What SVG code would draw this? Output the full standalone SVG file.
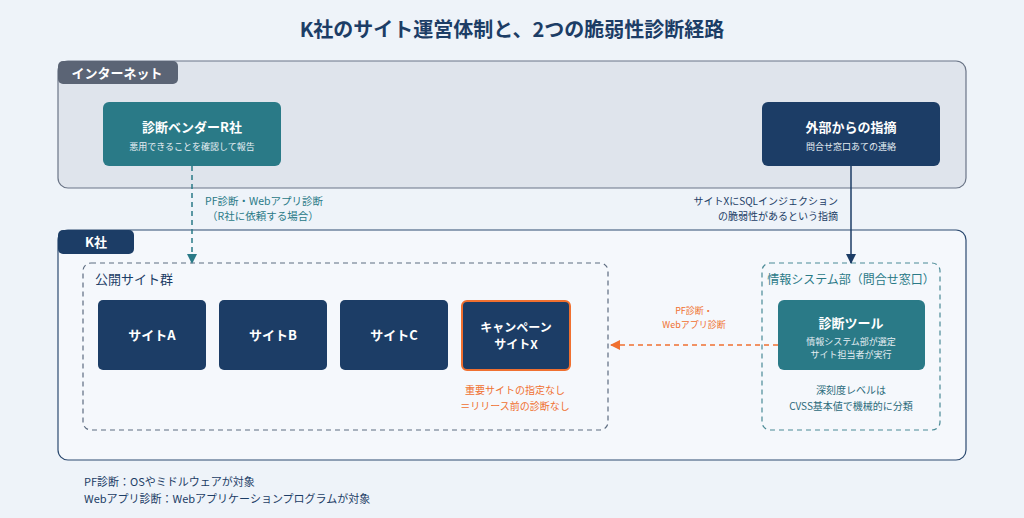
<svg xmlns="http://www.w3.org/2000/svg" width="1024" height="518" viewBox="0 0 1024 518">
<style>
text{font-family:"Noto Sans CJK JP","Noto Sans",sans-serif}
.t{font-weight:700;fill:#fff;text-anchor:middle}
.s{font-size:9px;fill:#e6eef3;text-anchor:middle}
.site{fill:#1c3d66}
</style>
<defs>
<marker id="mt" markerWidth="10" markerHeight="10" refX="9" refY="5" orient="auto" markerUnits="userSpaceOnUse"><path d="M0,0L10,5L0,10z" fill="#2a7a87"/></marker>
<marker id="mn" markerWidth="10" markerHeight="10" refX="9" refY="5" orient="auto" markerUnits="userSpaceOnUse"><path d="M0,0L10,5L0,10z" fill="#1c3d66"/></marker>
<marker id="mo" markerWidth="10" markerHeight="10" refX="9" refY="5" orient="auto" markerUnits="userSpaceOnUse"><path d="M0,0L10,5L0,10z" fill="#f07030"/></marker>
</defs>
<rect width="1024" height="518" fill="#eef3f9"/>
<text x="512" y="37" font-size="20" font-weight="700" fill="#1c3d66" text-anchor="middle">K社のサイト運営体制と、2つの脆弱性診断経路</text>
<g id="internet">
<rect x="58" y="61" width="908" height="127" rx="10" fill="#dfe4ec" stroke="#6b7587" stroke-width="1.2"/>
<rect x="58" y="61" width="120" height="23" rx="5" fill="#5b6475"/>
<text x="117" y="78" font-size="13" class="t">インターネット</text>
</g>
<g id="kcorp">
<rect x="58" y="230" width="908" height="230" rx="10" fill="#f5f8fc" stroke="#2c4a70" stroke-width="1.2"/>
<rect x="58" y="230" width="76" height="24" rx="5" fill="#1c3d66"/>
<text x="96" y="247" font-size="13" class="t">K社</text>
</g>
<g id="public">
<rect x="83" y="263" width="525" height="167" rx="8" fill="none" stroke="#5d6c80" stroke-width="1.2" stroke-dasharray="5,4"/>
<text x="95" y="284" font-size="13" fill="#1c3d66">公開サイト群</text>
</g>
<g id="infodept">
<rect x="762" y="263" width="178" height="167" rx="8" fill="none" stroke="#4a8a96" stroke-width="1.2" stroke-dasharray="5,4"/>
<text x="851" y="284" font-size="12" fill="#2a7a87" text-anchor="middle">情報システム部（問合せ窓口）</text>
<text x="851" y="394" font-size="10" fill="#2a6a7a" text-anchor="middle">深刻度レベルは</text>
<text x="851" y="410" font-size="10" fill="#2a6a7a" text-anchor="middle">CVSS基本値で機械的に分類</text>
</g>
<g id="vendor">
<rect x="103" y="102" width="178" height="64" rx="6" fill="#2a7a87"/>
<text x="192" y="132" font-size="13" class="t">診断ベンダーR社</text>
<text x="192" y="150" class="s">悪用できることを確認して報告</text>
</g>
<g id="external">
<rect x="762" y="102" width="178" height="64" rx="6" fill="#1c3d66"/>
<text x="851" y="132" font-size="13" class="t">外部からの指摘</text>
<text x="851" y="150" class="s">問合せ窓口あての連絡</text>
</g>
<g id="siteA"><rect x="98" y="300" width="108" height="70" rx="5" class="site"/><text x="152" y="340" font-size="13" class="t">サイトA</text></g>
<g id="siteB"><rect x="219" y="300" width="108" height="70" rx="5" class="site"/><text x="273" y="340" font-size="13" class="t">サイトB</text></g>
<g id="siteC"><rect x="340" y="300" width="108" height="70" rx="5" class="site"/><text x="394" y="340" font-size="13" class="t">サイトC</text></g>
<g id="siteX">
<rect x="462" y="301" width="108" height="69" rx="5" class="site" stroke="#f07030" stroke-width="2"/>
<text x="516" y="332" font-size="12" class="t">キャンペーン</text>
<text x="516" y="349" font-size="12" class="t">サイトX</text>
<text x="515" y="394" font-size="10" fill="#f07030" text-anchor="middle">重要サイトの指定なし</text>
<text x="515" y="410" font-size="10" fill="#f07030" text-anchor="middle">＝リリース前の診断なし</text>
</g>
<g id="tool">
<rect x="778" y="300" width="147" height="70" rx="6" fill="#2a7a87"/>
<text x="851" y="328" font-size="13" class="t">診断ツール</text>
<text x="851" y="345" class="s" font-size="8.5">情報システム部が選定</text>
<text x="851" y="358" class="s" font-size="8.5">サイト担当者が実行</text>
</g>
<g id="connectors">
<line x1="192" y1="166" x2="192" y2="263" stroke="#2a7a87" stroke-width="1.5" stroke-dasharray="5,4" marker-end="url(#mt)"/>
<text x="205" y="205" font-size="10.5" fill="#2a7a87">PF診断・Webアプリ診断</text>
<text x="207" y="220" font-size="10.5" fill="#2a7a87">（R社に依頼する場合）</text>
<line x1="851" y1="166" x2="851" y2="263" stroke="#1c3d66" stroke-width="1.5" marker-end="url(#mn)"/>
<text x="838" y="205" font-size="10" fill="#1c3d66" text-anchor="end">サイトXにSQLインジェクション</text>
<text x="838" y="220" font-size="10" fill="#1c3d66" text-anchor="end">の脆弱性があるという指摘</text>
<line x1="778" y1="345" x2="611" y2="345" stroke="#f07030" stroke-width="1.5" stroke-dasharray="5,4" marker-end="url(#mo)"/>
<text x="694" y="314" font-size="9" fill="#f07030" text-anchor="middle">PF診断・</text>
<text x="694" y="328" font-size="9" fill="#f07030" text-anchor="middle">Webアプリ診断</text>
</g>
<text x="84" y="486" font-size="11" fill="#1c3d66">PF診断：OSやミドルウェアが対象</text>
<text x="84" y="503" font-size="11" fill="#1c3d66">Webアプリ診断：Webアプリケーションプログラムが対象</text>
</svg>
